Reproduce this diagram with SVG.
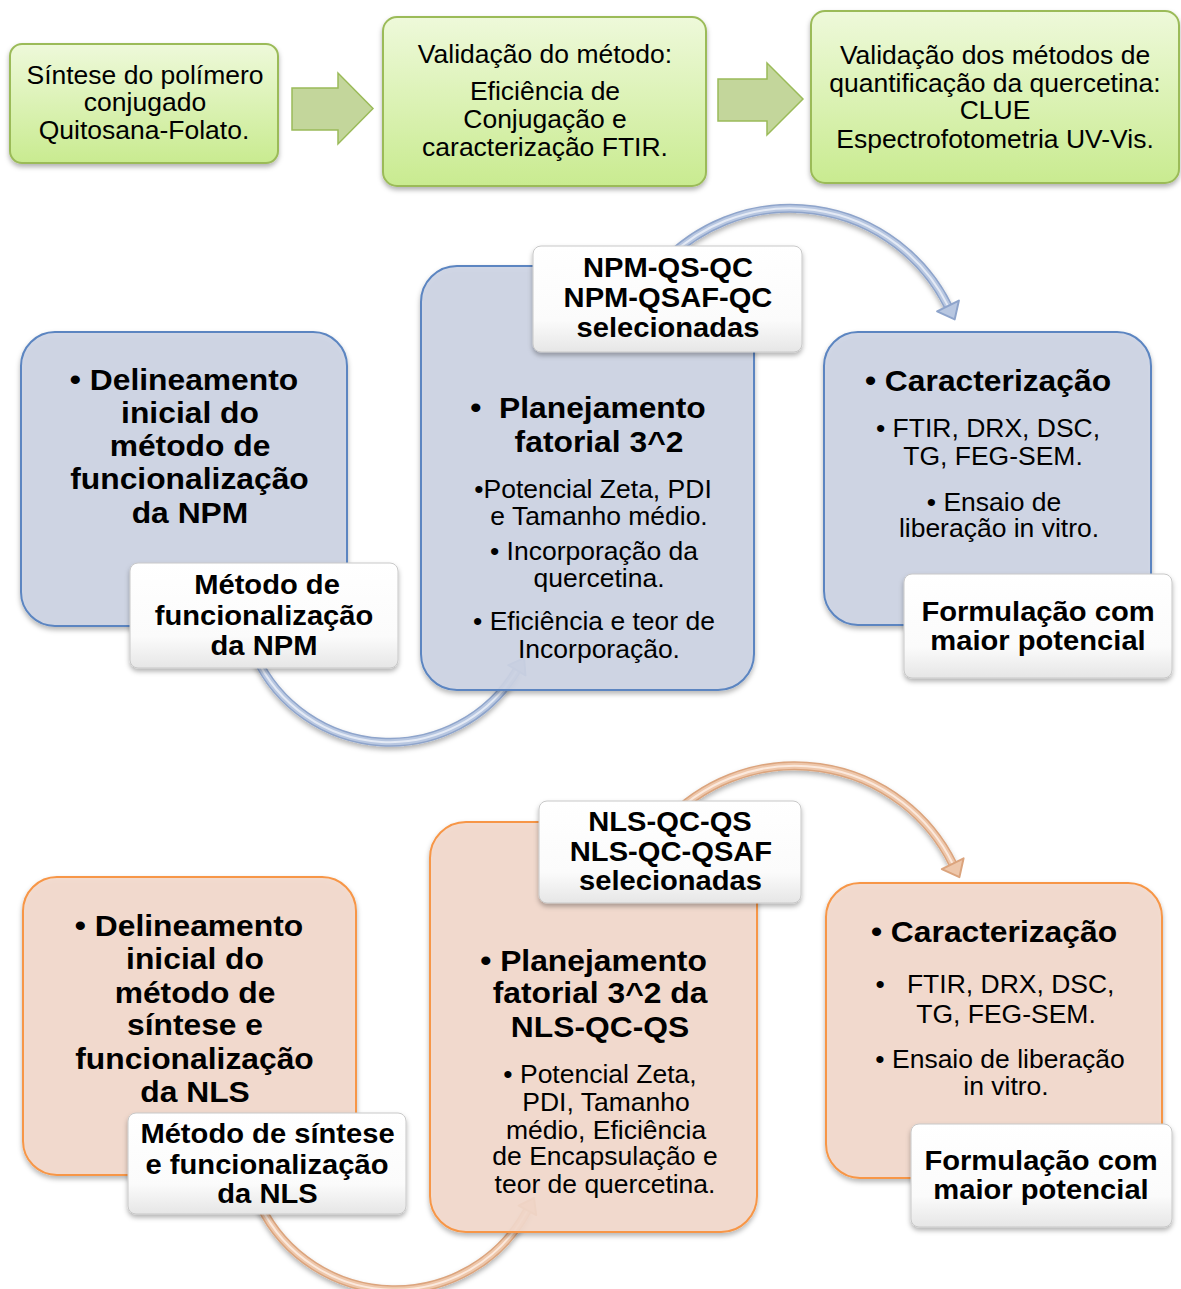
<svg xmlns="http://www.w3.org/2000/svg" width="1181" height="1289" viewBox="0 0 1181 1289">
<defs>
<style>
.r{font-family:"Liberation Sans",Arial,sans-serif;font-size:25px;fill:#000;text-anchor:middle}
.h{font-family:"Liberation Sans",Arial,sans-serif;font-size:30px;font-weight:bold;fill:#000;text-anchor:middle}
.l{font-family:"Liberation Sans",Arial,sans-serif;font-size:27.5px;font-weight:bold;fill:#000;text-anchor:middle}
.gbox{fill:url(#gGreen);stroke:#9bbb59;stroke-width:2;filter:url(#sh)}
.bbox{fill:#cdd4e4;fill-opacity:.9;stroke:#5b85c1;stroke-width:2;filter:url(#sh)}
.obox{fill:#f3d9cc;fill-opacity:.9;stroke:#f79646;stroke-width:2;filter:url(#sh)}
.wbox{fill:url(#gWhite);stroke:#c8c8c8;stroke-width:1;filter:url(#sh)}
.garrow{fill:#c3d69b;stroke:#9bbb59;stroke-width:1.5}
.bt-o{fill:none;stroke:#8ea4cb;stroke-width:9;filter:url(#sh)}
.bt-m{fill:none;stroke:#b8c7e1;stroke-width:6}
.bt-i{fill:none;stroke:#e4eaf5;stroke-width:2}
.bh{fill:#b8c7e1;stroke:#8ea4cb;stroke-width:2;stroke-linejoin:round}
.ot-o{fill:none;stroke:#dba47d;stroke-width:9;filter:url(#sh)}
.ot-m{fill:none;stroke:#eec7ab;stroke-width:6}
.ot-i{fill:none;stroke:#fbe9dd;stroke-width:2}
.oh{fill:#eec7ab;stroke:#dba47d;stroke-width:2;stroke-linejoin:round}
</style>
<linearGradient id="gGreen" x1="0" y1="0" x2="0" y2="1">
<stop offset="0" stop-color="#eef9da"/>
<stop offset="1" stop-color="#c9eb90"/>
</linearGradient>
<linearGradient id="gWhite" x1="0" y1="0" x2="0" y2="1">
<stop offset="0" stop-color="#ffffff"/>
<stop offset="0.7" stop-color="#fbfbfb"/>
<stop offset="1" stop-color="#e6e6e6"/>
</linearGradient>
<filter id="sh" x="-10%" y="-10%" width="120%" height="125%">
<feDropShadow dx="0" dy="3" stdDeviation="2.5" flood-color="#000" flood-opacity="0.3"/>
</filter>
</defs>

<g id="connectors">
<polygon class="garrow" points="292,88 338,88 338,73 373,108.5 338,144 338,130 292,130"/>
<polygon class="garrow" points="718,79 767,79 767,63 803,99 767,135 767,121 718,121"/>
<path class="bt-o" d="M660,266 A176,176 0 0 1 948,306"/>
<path class="bt-m" d="M660,266 A176,176 0 0 1 948,306"/>
<path class="bt-i" d="M660,266 A176,176 0 0 1 948,306"/>
<polygon class="bh" points="954.7,319.4 958.9,300.6 937.1,311.4"/>
<path class="bt-o" d="M255,655 A148,148 0 0 0 516.9,670.2"/>
<path class="bt-m" d="M255,655 A148,148 0 0 0 516.9,670.2"/>
<path class="bt-i" d="M255,655 A148,148 0 0 0 516.9,670.2"/>
<polygon class="bh" points="524.1,658.2 525.5,675.4 508.3,665.1"/>
<path class="ot-o" d="M665,823 A176,176 0 0 1 952.7,863.7"/>
<path class="ot-m" d="M665,823 A176,176 0 0 1 952.7,863.7"/>
<path class="ot-i" d="M665,823 A176,176 0 0 1 952.7,863.7"/>
<polygon class="oh" points="959.4,877.1 963.6,858.3 941.8,869.1"/>
<path class="ot-o" d="M260,1205 A150,150 0 0 0 527.4,1210.4"/>
<path class="ot-m" d="M260,1205 A150,150 0 0 0 527.4,1210.4"/>
<path class="ot-i" d="M260,1205 A150,150 0 0 0 527.4,1210.4"/>
<polygon class="oh" points="534,1198 536.2,1215.1 518.6,1205.7"/>
</g>

<g id="n-sintese">
<rect class="gbox" x="10" y="44" width="268" height="119" rx="12"/>
<text class="r" transform="matrix(1.06 0 0 1 145 84)">Síntese do polímero</text>
<text class="r" transform="matrix(1.06 0 0 1 145 111)">conjugado</text>
<text class="r" transform="matrix(1.06 0 0 1 144 139)">Quitosana-Folato.</text>
</g>

<g id="n-validacao">
<rect class="gbox" x="383" y="17" width="323" height="169" rx="14"/>
<text class="r" transform="matrix(1.06 0 0 1 545 63)">Validação do método:</text>
<text class="r" transform="matrix(1.06 0 0 1 545 100)">Eficiência de</text>
<text class="r" transform="matrix(1.06 0 0 1 545 128)">Conjugação e</text>
<text class="r" transform="matrix(1.06 0 0 1 545 156)">caracterização FTIR.</text>
</g>

<g id="n-quantificacao">
<rect class="gbox" x="811" y="11" width="368" height="172" rx="14"/>
<text class="r" transform="matrix(1.06 0 0 1 995 64)">Validação dos métodos de</text>
<text class="r" transform="matrix(1.06 0 0 1 995 92)">quantificação da quercetina:</text>
<text class="r" transform="matrix(1.06 0 0 1 995 119)">CLUE</text>
<text class="r" transform="matrix(1.06 0 0 1 995 148)">Espectrofotometria UV-Vis.</text>
</g>

<g id="n-npm-delineamento">
<rect class="bbox" x="21" y="332" width="326" height="294" rx="34"/>
<text class="h" transform="matrix(1.06 0 0 1 184 390)">• Delineamento</text>
<text class="h" transform="matrix(1.06 0 0 1 190 423)">inicial do</text>
<text class="h" transform="matrix(1.06 0 0 1 190 456)">método de</text>
<text class="h" transform="matrix(1.06 0 0 1 189.5 489)">funcionalização</text>
<text class="h" transform="matrix(1.06 0 0 1 190 523)">da NPM</text>
</g>

<g id="n-npm-metodo">
<rect class="wbox" x="130" y="563" width="268" height="105" rx="8"/>
<text class="l" transform="matrix(1.06 0 0 1 267 594)">Método de</text>
<text class="l" transform="matrix(1.06 0 0 1 264 625)">funcionalização</text>
<text class="l" transform="matrix(1.06 0 0 1 264 655)">da NPM</text>
</g>

<g id="n-npm-planejamento">
<rect class="bbox" x="421" y="266" width="333" height="424" rx="36"/>
<text class="h" transform="matrix(1.06 0 0 1 588 418)">•&#160; Planejamento</text>
<text class="h" transform="matrix(1.06 0 0 1 599 452)">fatorial 3^2</text>
<text class="r" transform="matrix(1.06 0 0 1 593 498)">•Potencial Zeta, PDI</text>
<text class="r" transform="matrix(1.06 0 0 1 599 525)">e Tamanho médio.</text>
<text class="r" transform="matrix(1.06 0 0 1 594 560)">• Incorporação da</text>
<text class="r" transform="matrix(1.06 0 0 1 599 587)">quercetina.</text>
<text class="r" transform="matrix(1.06 0 0 1 594 630)">• Eficiência e teor de</text>
<text class="r" transform="matrix(1.06 0 0 1 599 658)">Incorporação.</text>
</g>

<g id="n-npm-selecionadas">
<rect class="wbox" x="533" y="246" width="269" height="106" rx="8"/>
<text class="l" transform="matrix(1.06 0 0 1 668 277)">NPM-QS-QC</text>
<text class="l" transform="matrix(1.06 0 0 1 668 307)">NPM-QSAF-QC</text>
<text class="l" transform="matrix(1.06 0 0 1 668 337)">selecionadas</text>
</g>

<g id="n-npm-caracterizacao">
<rect class="bbox" x="824" y="332" width="327" height="293" rx="34"/>
<text class="h" transform="matrix(1.06 0 0 1 988 391)">• Caracterização</text>
<text class="r" transform="matrix(1.06 0 0 1 988 437)">• FTIR, DRX, DSC,</text>
<text class="r" transform="matrix(1.06 0 0 1 993 465)">TG, FEG-SEM.</text>
<text class="r" transform="matrix(1.06 0 0 1 994 511)">• Ensaio de</text>
<text class="r" transform="matrix(1.06 0 0 1 999 537)">liberação in vitro.</text>
</g>

<g id="n-npm-formulacao">
<rect class="wbox" x="904" y="574" width="268" height="104" rx="8"/>
<text class="l" transform="matrix(1.06 0 0 1 1038 621)">Formulação com</text>
<text class="l" transform="matrix(1.06 0 0 1 1038 650)">maior potencial</text>
</g>

<g id="n-nls-delineamento">
<rect class="obox" x="23" y="877" width="333" height="298" rx="34"/>
<text class="h" transform="matrix(1.06 0 0 1 189 936)">• Delineamento</text>
<text class="h" transform="matrix(1.06 0 0 1 195 969)">inicial do</text>
<text class="h" transform="matrix(1.06 0 0 1 195 1003)">método de</text>
<text class="h" transform="matrix(1.06 0 0 1 195 1035)">síntese e</text>
<text class="h" transform="matrix(1.06 0 0 1 194.5 1069)">funcionalização</text>
<text class="h" transform="matrix(1.06 0 0 1 195 1102)">da NLS</text>
</g>

<g id="n-nls-metodo">
<rect class="wbox" x="128" y="1113" width="278" height="101" rx="8"/>
<text class="l" transform="matrix(1.06 0 0 1 267.5 1143)">Método de síntese</text>
<text class="l" transform="matrix(1.06 0 0 1 267 1174)">e funcionalização</text>
<text class="l" transform="matrix(1.06 0 0 1 267.5 1203)">da NLS</text>
</g>

<g id="n-nls-planejamento">
<rect class="obox" x="430" y="822" width="327" height="410" rx="36"/>
<text class="h" transform="matrix(1.06 0 0 1 593.5 971)">• Planejamento</text>
<text class="h" transform="matrix(1.06 0 0 1 600 1003)">fatorial 3^2 da</text>
<text class="h" transform="matrix(1.06 0 0 1 600 1037)">NLS-QC-QS</text>
<text class="r" transform="matrix(1.06 0 0 1 600 1083)">• Potencial Zeta,</text>
<text class="r" transform="matrix(1.06 0 0 1 606 1111)">PDI, Tamanho</text>
<text class="r" transform="matrix(1.06 0 0 1 606 1139)">médio, Eficiência</text>
<text class="r" transform="matrix(1.06 0 0 1 605 1165)">de Encapsulação e</text>
<text class="r" transform="matrix(1.06 0 0 1 605 1193)">teor de quercetina.</text>
</g>

<g id="n-nls-selecionadas">
<rect class="wbox" x="539" y="801" width="262" height="102" rx="8"/>
<text class="l" transform="matrix(1.06 0 0 1 670 831)">NLS-QC-QS</text>
<text class="l" transform="matrix(1.06 0 0 1 671 861)">NLS-QC-QSAF</text>
<text class="l" transform="matrix(1.06 0 0 1 670.5 890)">selecionadas</text>
</g>

<g id="n-nls-caracterizacao">
<rect class="obox" x="826" y="883" width="336" height="295" rx="34"/>
<text class="h" transform="matrix(1.06 0 0 1 994 942)">• Caracterização</text>
<text class="r" transform="matrix(1.06 0 0 1 995 993)">•&#160;&#160; FTIR, DRX, DSC,</text>
<text class="r" transform="matrix(1.06 0 0 1 1006 1023)">TG, FEG-SEM.</text>
<text class="r" transform="matrix(1.06 0 0 1 1000 1068)">• Ensaio de liberação</text>
<text class="r" transform="matrix(1.06 0 0 1 1006 1095)">in vitro.</text>
</g>

<g id="n-nls-formulacao">
<rect class="wbox" x="911" y="1124" width="261" height="103" rx="8"/>
<text class="l" transform="matrix(1.06 0 0 1 1041 1170)">Formulação com</text>
<text class="l" transform="matrix(1.06 0 0 1 1041 1199)">maior potencial</text>
</g>
</svg>
